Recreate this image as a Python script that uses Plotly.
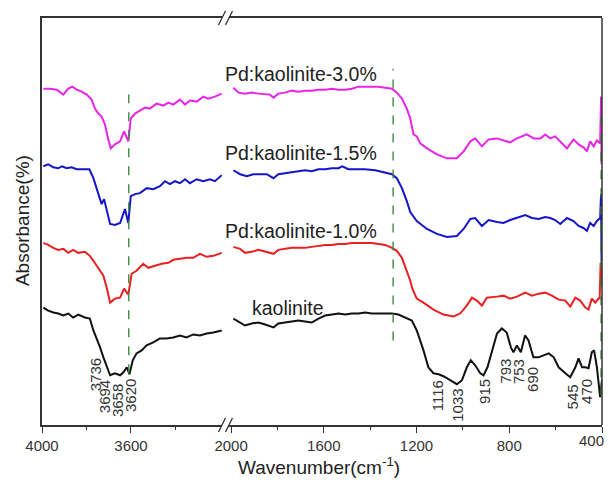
import plotly.graph_objects as go

FONT = "Liberation Sans, Arial, sans-serif"
AXC = "#333333"

# ---------------- data (wavenumber, absorbance in arbitrary stacked units) ----------------
# left panel (4000 - 3200 cm-1)
mag_l_wn = [3994,3964,3934,3904,3882,3864,3844,3822,3799,3777,3762,3747,3732,3717,3702,3691,3672,3649,3631,3612,3601,3582,3560,3537,3515,3485,3455,3432,3410,3380,3357,3335,3305,3275,3253,3223,3192]
mag_l_ab = [338,338,337,332,338,340,337,335,332,327,318,313,310,302,287,278,282,285,295,285,308,313,316,319,318,323,321,324,322,327,322,326,325,330,328,330,333]

blu_l_wn = [3994,3972,3949,3927,3911,3889,3867,3844,3814,3787,3769,3754,3742,3732,3721,3709,3694,3672,3649,3627,3612,3601,3582,3560,3529,3500,3470,3447,3425,3402,3380,3357,3335,3305,3275,3245,3223,3192]
blu_l_ab = [260,262,259,258,260,258,259,257,257,257,248,238,230,222,227,215,202,201,203,217,203,230,232,233,238,237,240,245,242,245,243,247,243,247,245,247,245,251]

red_l_wn = [3994,3972,3949,3927,3904,3882,3860,3837,3807,3785,3769,3754,3739,3724,3709,3694,3672,3649,3631,3612,3597,3575,3545,3522,3492,3462,3432,3410,3380,3350,3320,3290,3260,3230,3192]
red_l_ab = [183,181,178,176,177,173,176,173,174,170,165,160,155,150,138,123,127,128,137,131,152,155,162,158,160,162,163,166,167,168,168,172,169,170,173]

blk_l_wn = [3994,3972,3949,3927,3904,3882,3860,3837,3807,3785,3769,3754,3739,3724,3709,3694,3672,3649,3634,3619,3607,3592,3575,3552,3530,3500,3470,3440,3410,3380,3350,3320,3290,3260,3230,3192]
blk_l_ab = [118,115,113,112,110,112,108,111,108,107,95,87,78,68,58,50,52,50,53,58,51,65,72,75,80,83,87,87,88,90,88,91,90,92,93,95]

# right panel (2000 - 400 cm-1)
mag_r_wn = [1990,1968,1940,1911,1882,1853,1832,1817,1796,1767,1738,1710,1681,1652,1623,1594,1565,1537,1508,1479,1450,1422,1393,1364,1335,1306,1285,1263,1242,1227,1213,1199,1184,1155,1112,1069,1026,997,968,947,918,889,853,825,796,767,724,695,666,645,623,602,580,551,523,501,480,465,451,436,422,408,404,402,400]
mag_r_ab = [339,334,333,334,333,332,332,329,333,334,336,335,336,336,337,337,338,337,337,338,340,340,340,340,339,338,334,328,318,308,292,290,283,278,272,268,268,275,285,288,280,287,288,286,284,288,292,288,288,292,288,290,285,278,287,282,279,275,285,280,286,283,330,262,300]

blu_r_wn = [1990,1961,1932,1904,1875,1846,1817,1796,1767,1738,1710,1681,1652,1623,1594,1565,1537,1520,1494,1465,1422,1378,1335,1306,1285,1263,1242,1227,1199,1155,1112,1069,1026,997,968,947,918,889,853,825,796,767,731,702,673,645,623,602,580,551,523,501,480,465,451,436,422,408,404,402,400]
blu_r_ab = [256,252,250,252,252,252,248,252,253,254,255,256,255,257,257,258,258,260,257,257,257,256,254,252,248,238,225,214,205,197,192,189,190,197,207,208,200,206,204,203,206,208,211,208,207,209,208,206,202,208,205,200,198,195,203,200,205,208,232,165,220]

red_r_wn = [1990,1961,1940,1911,1882,1853,1817,1796,1767,1738,1710,1681,1652,1623,1594,1565,1537,1508,1479,1450,1422,1393,1364,1335,1306,1285,1263,1242,1227,1218,1199,1170,1127,1084,1041,1012,983,961,940,918,897,853,825,796,767,731,702,673,645,616,587,558,537,515,494,472,458,444,429,415,410,406,403,400]
red_r_ab = [179,177,173,174,176,174,172,176,177,178,178,178,179,180,181,181,182,182,183,183,183,183,182,181,178,175,168,155,145,137,127,123,116,111,109,112,120,128,125,120,128,129,130,127,129,133,130,132,133,130,126,125,119,128,125,118,116,127,123,127,127,163,160,140]

blk_r_wn = [1990,1968,1940,1911,1882,1853,1817,1796,1767,1738,1710,1681,1652,1623,1594,1565,1537,1508,1479,1450,1422,1393,1364,1335,1306,1278,1249,1220,1199,1170,1149,1127,1105,1084,1055,1026,1004,983,966,947,925,911,894,875,853,832,811,793,782,767,750,732,717,696,674,652,630,608,587,558,537,515,501,486,472,458,444,434,422,408,400]
blk_r_ab = [107,104,100,102,103,101,98,102,103,104,105,104,103,107,110,111,112,111,112,112,113,112,112,112,112,111,108,105,95,75,58,52,51,49,45,41,45,58,65,60,52,50,58,75,92,97,93,78,73,80,73,90,85,68,68,70,72,68,58,52,48,58,67,58,58,57,73,75,58,28,45]

series_names = ["Pd:kaolinite-3.0%", "Pd:kaolinite-1.5%", "Pd:kaolinite-1.0%", "kaolinite"]
series_colors = ["#e824e8", "#1515c8", "#e82020", "#111111"]
label_y = [353, 273, 195, 118]

# reference (dashed) lines: axis, wavenumber, y-from, y-to
ref_axis = ["x", "x2", "x2"]
ref_wn = [3610, 1301, 404]
ref_y0 = [52, 85, 30]
ref_y1 = [332, 358, 310]

# peak labels
left_peaks = ["3736", "3694", "3658", "3620"]
left_peak_x = [3762, 3721, 3663, 3605]
left_peak_y = [51, 28, 25, 30]
right_peaks = ["1116", "1033", "915", "793", "753", "690", "545", "470"]
right_peak_x = [1111, 1027, 910, 817, 763, 699, 528, 470]
right_peak_y = [29, 20, 34, 54, 54, 46, 28, 34]

left_ticks = [4000, 3600]
left_minor = [3800, 3400]
right_ticks = [2000, 1600, 1200, 800, 400]
right_minor = [1800, 1400, 1000, 600]

# ---------------- figure ----------------
fig = go.Figure()
left_sets = [(mag_l_wn, mag_l_ab), (blu_l_wn, blu_l_ab), (red_l_wn, red_l_ab), (blk_l_wn, blk_l_ab)]
right_sets = [(mag_r_wn, mag_r_ab), (blu_r_wn, blu_r_ab), (red_r_wn, red_r_ab), (blk_r_wn, blk_r_ab)]

for (lx, ly), (rx, ry), name, col in zip(left_sets, right_sets, series_names, series_colors):
    fig.add_trace(go.Scatter(x=lx, y=ly, xaxis="x", yaxis="y", mode="lines",
                             line=dict(color=col, width=2), name=name, showlegend=False))
    fig.add_trace(go.Scatter(x=rx, y=ry, xaxis="x2", yaxis="y", mode="lines",
                             line=dict(color=col, width=2), name=name, showlegend=False))

shapes = []
for ax, wn, y0, y1 in zip(ref_axis, ref_wn, ref_y0, ref_y1):
    shapes.append(dict(type="line", xref=ax, yref="y", x0=wn, x1=wn, y0=y0, y1=y1,
                       line=dict(color="#3c8c3c", width=1.4, dash="dash")))

# right frame line
shapes.append(dict(type="line", xref="paper", yref="paper", x0=1, x1=1, y0=0, y1=1,
                   line=dict(color=AXC, width=1.5)))

# axis break marks (//)
L_END = 0.3214
R_START = 0.3339
for xc in [L_END, R_START]:
    for yc in [0, 1]:
        shapes.append(dict(type="line", xref="paper", yref="paper",
                           xsizemode="pixel", ysizemode="pixel",
                           xanchor=xc, yanchor=yc,
                           x0=-3.5, x1=3.5, y0=-7, y1=7,
                           line=dict(color=AXC, width=1.3)))

annotations = []
for name, yv in zip(series_names, label_y):
    xp = 0.3232 if name != "kaolinite" else 0.3714
    annotations.append(dict(text=name, xref="paper", yref="y", x=xp, y=yv,
                            xanchor="left", yanchor="middle", showarrow=False,
                            font=dict(family=FONT, size=19.5, color="#222222")))
for t, xv, yv in zip(left_peaks, left_peak_x, left_peak_y):
    annotations.append(dict(text=t, xref="x", yref="y", x=xv, y=yv, textangle=-90,
                            xanchor="center", yanchor="middle", showarrow=False,
                            font=dict(family=FONT, size=15, color="#333333")))
for t, xv, yv in zip(right_peaks, right_peak_x, right_peak_y):
    annotations.append(dict(text=t, xref="x2", yref="y", x=xv, y=yv, textangle=-90,
                            xanchor="center", yanchor="middle", showarrow=False,
                            font=dict(family=FONT, size=15, color="#333333")))
annotations.append(dict(text="Wavenumber(cm<sup>-1</sup>)", xref="paper", yref="paper",
                        x=0.4946, y=-0.1002, xanchor="center", yanchor="middle",
                        showarrow=False, font=dict(family=FONT, size=19, color="#222222")))
annotations.append(dict(text="Absorbance(%)", xref="paper", yref="paper",
                        x=-0.0357, y=0.501, xanchor="center", yanchor="middle", textangle=-90,
                        showarrow=False, font=dict(family=FONT, size=19, color="#222222")))
# last tick label drawn right-aligned at the window edge so it is not cut off
annotations.append(dict(text=str(right_ticks[-1]), xref="paper", yref="paper",
                        x=1.0071, y=-0.0385, xanchor="right", yanchor="middle",
                        showarrow=False, font=dict(family=FONT, size=15, color="#333333")))

common_x = dict(showline=True, linecolor=AXC, linewidth=1.5, mirror=True,
                ticks="outside", ticklen=6, tickwidth=1.3, tickcolor=AXC,
                showgrid=False, zeroline=False, anchor="y",
                tickfont=dict(family=FONT, size=15, color="#333333"))

right_ticktext = [str(v) for v in right_ticks[:-1]] + [""]

# the page body adds an 8px offset; margins are reduced on top/left accordingly
fig.update_layout(
    width=615, height=488, autosize=False,
    margin=dict(l=34, r=21, t=8, b=71),
    paper_bgcolor="white", plot_bgcolor="white",
    xaxis=dict(domain=[0, L_END], range=[4000, 3191], tickmode="array",
               tickvals=left_ticks, ticktext=[str(v) for v in left_ticks],
               minor=dict(tickmode="array", tickvals=left_minor, ticks="outside",
                          ticklen=3.5, tickwidth=1.2, tickcolor=AXC),
               **common_x),
    xaxis2=dict(domain=[R_START, 1], range=[2009, 400], tickmode="array",
                tickvals=right_ticks, ticktext=right_ticktext,
                minor=dict(tickmode="array", tickvals=right_minor, ticks="outside",
                           ticklen=3.5, tickwidth=1.2, tickcolor=AXC),
                **common_x),
    yaxis=dict(domain=[0, 1], range=[0, 409], anchor="x", showline=True, linecolor=AXC,
               linewidth=1.5, showticklabels=False, ticks="", showgrid=False, zeroline=False),
    shapes=shapes,
    annotations=annotations,
)

fig.write_html("out.html",
               config={"responsive": False, "displayModeBar": False},
               post_script="document.documentElement.style.overflow='hidden';")
